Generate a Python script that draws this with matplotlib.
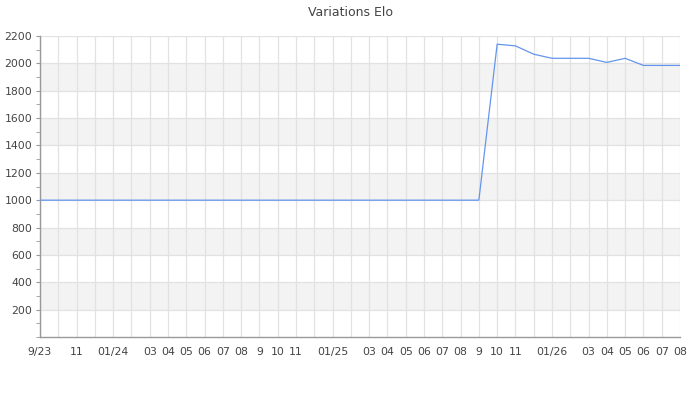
import numpy as np
import matplotlib

matplotlib.use("Agg")
import matplotlib.pyplot as plt  # noqa: E402
from matplotlib.ticker import MultipleLocator  # noqa: E402

# Monthly Elo, Sep 2023 .. Aug 2026
months = ["2023-09", "2023-10", "2023-11", "2023-12", "2024-01", "2024-02",
          "2024-03", "2024-04", "2024-05", "2024-06", "2024-07", "2024-08",
          "2024-09", "2024-10", "2024-11", "2024-12", "2025-01", "2025-02",
          "2025-03", "2025-04", "2025-05", "2025-06", "2025-07", "2025-08",
          "2025-09", "2025-10", "2025-11", "2025-12", "2026-01", "2026-02",
          "2026-03", "2026-04", "2026-05", "2026-06", "2026-07", "2026-08"]
elo = [1000] * 25 + [2140, 2128, 2067, 2037, 2037, 2037, 2007, 2037,
                     1985, 1985, 1985]
tick_labels = ["9/23", "", "11", "", "01/24", "", "03", "04", "05", "06",
               "07", "08", "9", "10", "11", "", "01/25", "", "03", "04",
               "05", "06", "07", "08", "9", "10", "11", "", "01/26", "",
               "03", "04", "05", "06", "07", "08"]

fig = plt.figure(figsize=(7, 4), dpi=100)
ax = fig.add_axes([40 / 700, 63 / 400, 640 / 700, 301 / 400])

x = np.arange(len(months))
ax.set_xlim(0, len(months) - 1)
ax.set_ylim(0, 2200)

# alternating bands
for lo in range(200, 2200, 400):
    ax.axhspan(lo, lo + 200, color="#f3f3f3", zorder=0, lw=0)

ax.set_xticks(x)
ax.set_xticklabels(tick_labels)
ax.yaxis.set_major_locator(MultipleLocator(200))
ax.yaxis.set_minor_locator(MultipleLocator(100))
ax.set_yticks(range(200, 2201, 200))
ax.grid(True, which="major", color="#e2e2e2", lw=0.9, zorder=1)
ax.set_axisbelow(True)

ax.plot(x, elo, color="#6495ed", lw=0.9, zorder=3)

for s in ("top", "right"):
    ax.spines[s].set_visible(False)
for s in ("left", "bottom"):
    ax.spines[s].set_color("#999999")
    ax.spines[s].set_linewidth(1)

ax.tick_params(axis="x", length=0, pad=7, labelsize=7.8, labelcolor="#444444")
ax.tick_params(axis="y", which="both", length=3, color="#999999",
               pad=2.5, labelsize=7.8, labelcolor="#444444")

fig.text(0.5, 1 - 12 / 400, "Variations Elo", ha="center", va="center",
         fontsize=9, color="#444444")

fig.savefig("out.png", dpi=100)
